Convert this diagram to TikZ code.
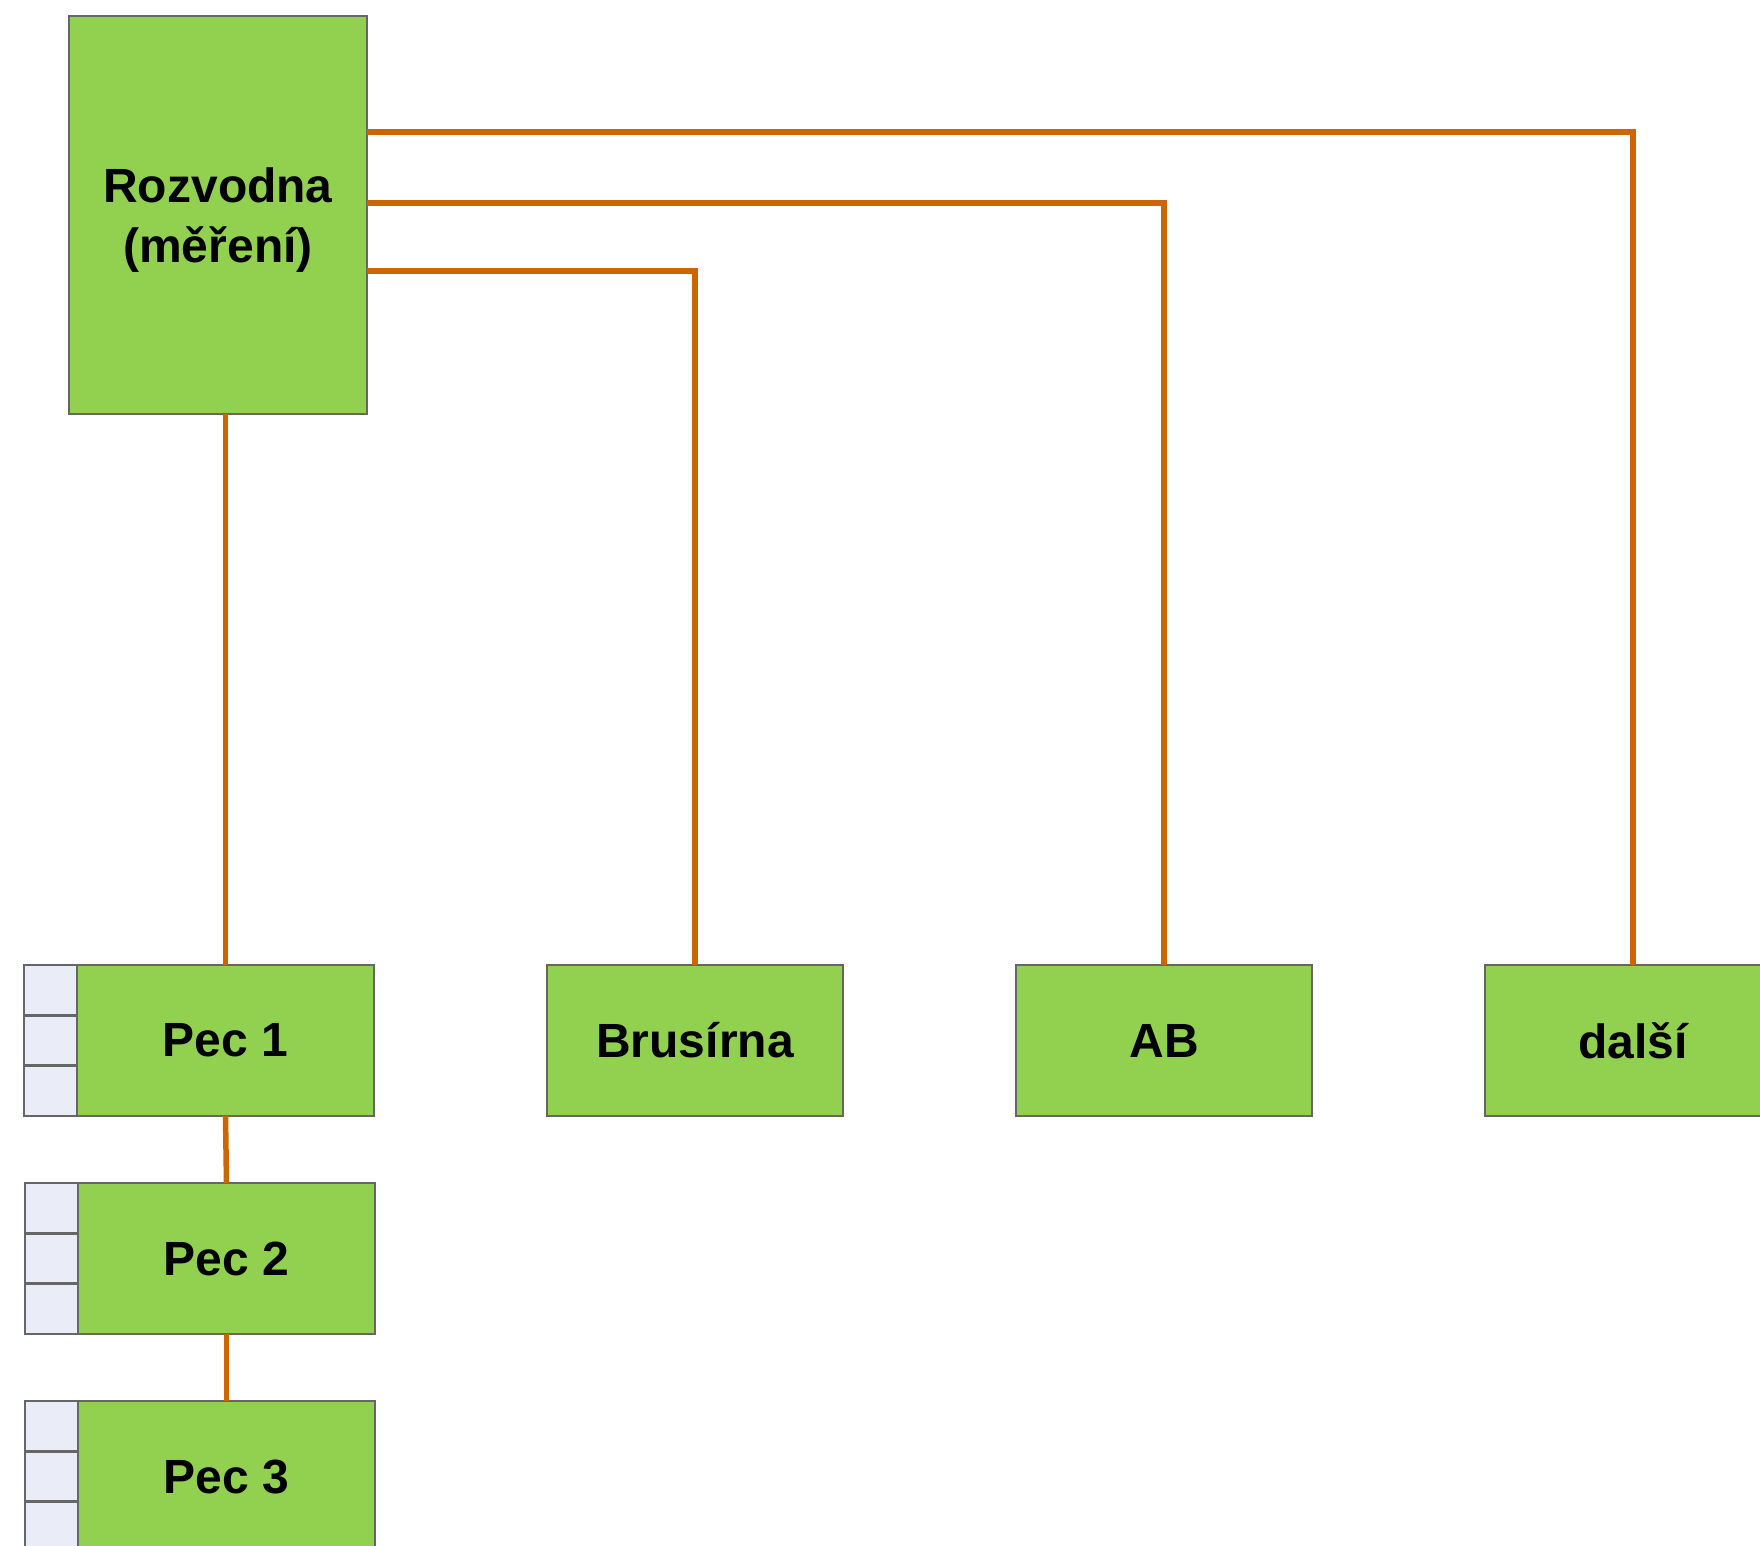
\documentclass[tikz,border=0pt]{standalone}
\usepackage{fontspec}
\setmainfont{Liberation Sans}
\definecolor{boxgreen}{HTML}{92D050}
\definecolor{boxline}{HTML}{666666}
\definecolor{wirecol}{HTML}{CC6600}
\definecolor{cellfill}{HTML}{EAECF8}
\begin{document}
\begin{tikzpicture}[x=1pt,y=-1pt,
  unitbox/.style={draw=boxline, line width=2.5pt, fill=boxgreen, inner sep=0pt, outer sep=0pt,
    font=\fontsize{48}{60}\selectfont\bfseries, align=center},
  labeltext/.style={inner sep=0pt, outer sep=0pt, font=\fontsize{48}{60}\selectfont\bfseries, align=center},
  cellbox/.style={draw=boxline, line width=2.5pt, fill=cellfill, minimum width=53pt,
    minimum height=50.3pt, inner sep=0pt, outer sep=0pt},
  wire/.style={draw=wirecol, line width=5.5pt}]
\useasboundingbox (0,0) rectangle (1760,1545);
\clip (0,0) rectangle (1760,1545);
% main distribution box
\node[unitbox, minimum width=298pt, minimum height=398pt] (roz) at (218,215) {};
\node[labeltext] (roztext) at ([yshift=-5pt]roz.center) {Rozvodna\\(měření)};
% furnaces
\node[unitbox, minimum width=297pt, minimum height=151pt] (pec1) at (225.5,1040.5) {Pec 1};
\node[unitbox, minimum width=297pt, minimum height=151pt] (pec2) at (226.5,1258.5) {Pec 2};
\node[unitbox, minimum width=297pt, minimum height=151pt] (pec3) at (226.5,1476.5) {Pec 3};
% side cells
\foreach \p in {pec1,pec2,pec3}{
  \node[cellbox, anchor=north east] (\p c1) at (\p.north west) {};
  \node[cellbox, anchor=north] (\p c2) at (\p c1.south) {};
  \node[cellbox, anchor=north] (\p c3) at (\p c2.south) {};
}
% other consumers
\node[unitbox, minimum width=296pt, minimum height=151pt] (brus) at (695,1040.5) {Brusírna};
\node[unitbox, minimum width=296pt, minimum height=151pt] (ab) at (1164,1040.5) {AB};
\node[unitbox, minimum width=296pt, minimum height=151pt] (dal) at (1633,1040.5) {další};
% connectors
\coordinate (h1) at (0,132);
\coordinate (h2) at (0,203);
\coordinate (h3) at (0,271);
\draw[wire] (roz.east |- h1) -| (dal.north);
\draw[wire] (roz.east |- h2) -| (ab.north);
\draw[wire] (roz.east |- h3) -| (brus.north);
\draw[wire] (pec1.north |- roz.south) -- (pec1.north);
\draw[wire] (pec1.south) -- (pec2.north);
\draw[wire] (pec2.south) -- (pec3.north);
\end{tikzpicture}
\end{document}
